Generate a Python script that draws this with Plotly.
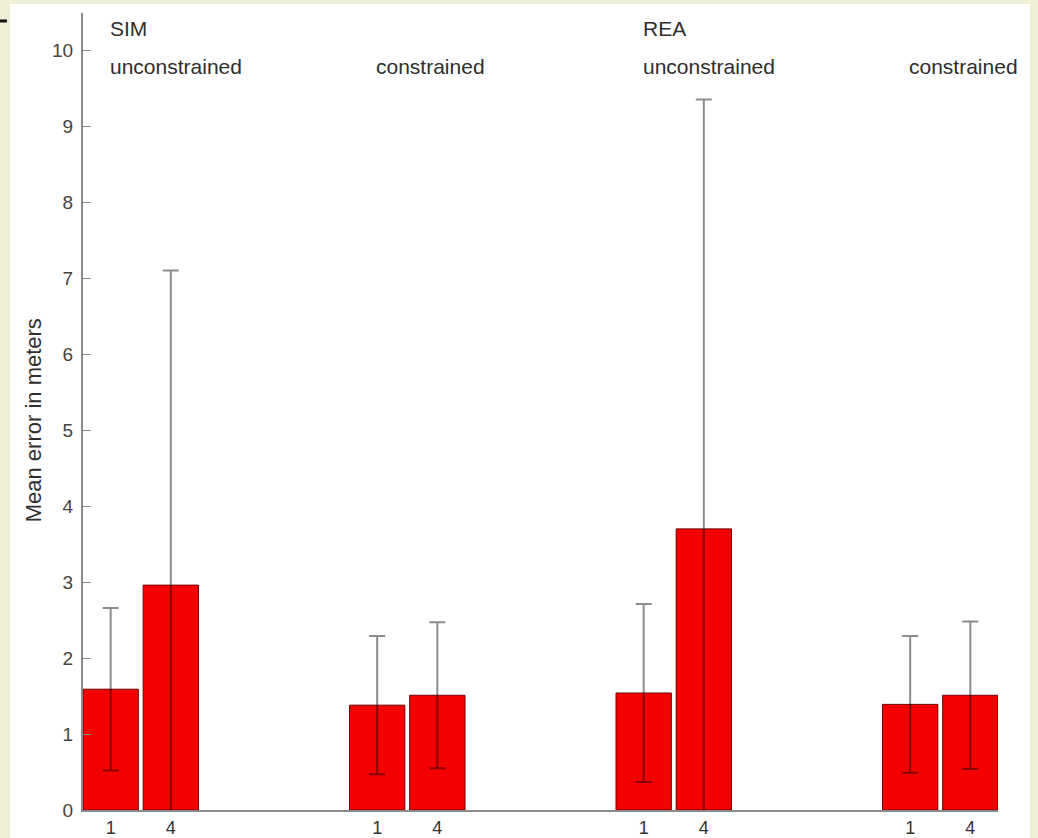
import plotly.graph_objects as go

# Mean localisation error per condition, for run lengths 1 and 4
conditions = ["SIM unconstrained", "SIM constrained", "REA unconstrained", "REA constrained"]
run_labels = ["1", "4"]
mean_run1 = [1.59, 1.38, 1.54, 1.39]
mean_run4 = [2.96, 1.51, 3.70, 1.51]
err_run1 = [1.07, 0.91, 1.17, 0.90]
err_run4 = [4.14, 0.96, 5.65, 0.97]
dataset_labels = ["SIM", "", "REA", ""]
constraint_labels = ["unconstrained", "constrained", "unconstrained", "constrained"]

GROUP_STEP = 4.43
BAR_WIDTH = 0.92
x_run1 = [1 + g * GROUP_STEP for g in range(len(conditions))]
x_run4 = [x + 1 for x in x_run1]

BAR_RED = "#f50000"
BAR_EDGE = "#6e0000"
ERR_COLOR = "rgba(0,0,0,0.45)"
TEXT_FONT = "Arial, 'Liberation Sans', sans-serif"
CAPTION_SIZE = 21

fig = go.Figure()
for xs, ys, es, name in [(x_run1, mean_run1, err_run1, run_labels[0]),
                         (x_run4, mean_run4, err_run4, run_labels[1])]:
    fig.add_trace(go.Bar(
        x=xs, y=ys, width=BAR_WIDTH, name=name,
        marker=dict(color=BAR_RED, line=dict(color=BAR_EDGE, width=1)),
        error_y=dict(type="data", array=es, symmetric=True,
                     color=ERR_COLOR, thickness=2, width=8),
        showlegend=False,
    ))

# Group captions above the bars
annotations = []
for g, x in enumerate(x_run1):
    if dataset_labels[g]:
        annotations.append(dict(x=x, y=10.29, xref="x", yref="y", text=dataset_labels[g],
                                showarrow=False, xanchor="left", yanchor="middle", xshift=-3,
                                font=dict(family=TEXT_FONT, size=CAPTION_SIZE, color="#2e2e2e")))
    annotations.append(dict(x=x, y=9.78, xref="x", yref="y", text=constraint_labels[g],
                            showarrow=False, xanchor="left", yanchor="middle", xshift=-3,
                            font=dict(family=TEXT_FONT, size=CAPTION_SIZE, color="#2e2e2e")))

# y-axis title
annotations.append(dict(x=-0.0546, y=0.489, xref="paper", yref="paper",
                        text="Mean error in meters", textangle=-90, showarrow=False,
                        xanchor="center", yanchor="middle",
                        font=dict(family=TEXT_FONT, size=22, color="#2e2e2e")))

shapes = [
    # white figure panel over the cream page
    dict(type="rect", xref="paper", yref="paper", x0=-0.0798, x1=1.035, y0=-0.1, y1=1.0113,
         fillcolor="white", line=dict(width=0), layer="below"),
    # small dark mark at the top-left corner
    dict(type="line", xref="paper", yref="paper", x0=-0.0907, x1=-0.0831, y0=0.99, y1=0.99,
         line=dict(color="#111", width=3)),
]

tick_x = []
tick_text = []
for a, b in zip(x_run1, x_run4):
    tick_x += [a, b]
    tick_text += run_labels

fig.update_layout(
    width=1038, height=838, autosize=False,
    margin=dict(l=83, r=40, t=13, b=28),
    paper_bgcolor="#efefd7", plot_bgcolor="white",
    barmode="overlay",
    annotations=annotations, shapes=shapes,
    font=dict(family=TEXT_FONT, color="#333"),
    xaxis=dict(range=[x_run1[0] - BAR_WIDTH / 2, x_run4[-1] + BAR_WIDTH / 2],
               tickvals=tick_x, ticktext=tick_text, ticks="", automargin=False,
               showline=True, linecolor="#8a8a8a", linewidth=2,
               showgrid=False, zeroline=False, ticklabelstandoff=0,
               tickfont=dict(family=TEXT_FONT, size=18, color="#333")),
    yaxis=dict(range=[0, 10.49], tickvals=list(range(0, 11)), automargin=False,
               ticks="inside", ticklen=8, tickwidth=1, tickcolor="#8a8a8a",
               showline=True, linecolor="#8a8a8a", linewidth=2,
               showgrid=False, zeroline=False, ticklabelstandoff=4,
               tickfont=dict(family=TEXT_FONT, size=19, color="#444")),
)

fig.write_html("out.html")
